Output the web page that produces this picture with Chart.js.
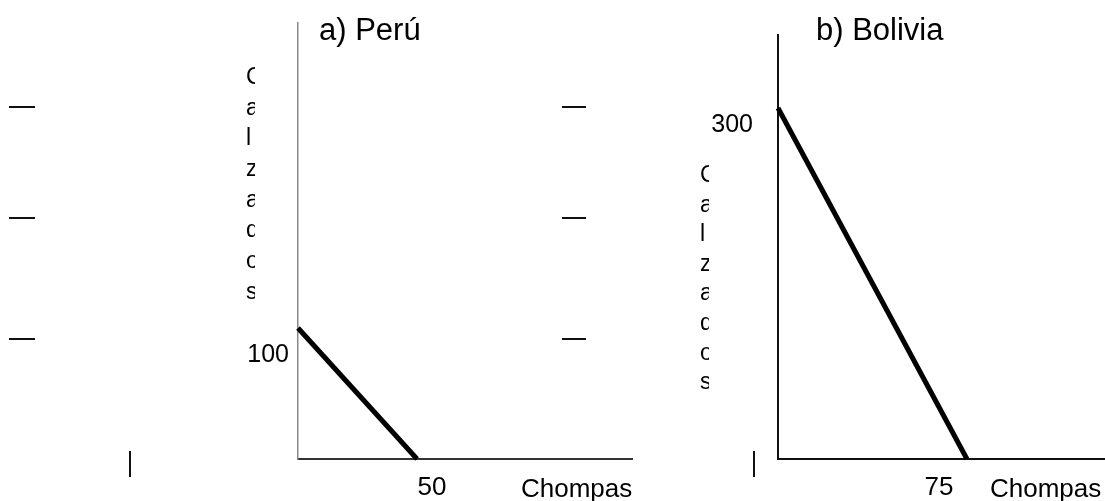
<!DOCTYPE html>
<html>
<head>
<meta charset="utf-8">
<script src="https://cdn.jsdelivr.net/npm/chart.js@4"></script>
<style>
html, body { margin:0; padding:0; background:#fff; width:1105px; height:501px; overflow:hidden; }
#wrap { position:relative; width:1105px; height:501px; font-family:"Liberation Sans", Arial, sans-serif; color:#000; }
canvas { position:absolute; left:0; top:0; }
.t { position:absolute; white-space:nowrap; line-height:1; }
.v { position:absolute; width:9px; overflow:hidden; word-break:break-all; font-size:23px; }
.mark { position:absolute; background:#111; }
</style>
</head>
<body>
<div id="wrap">
  <canvas id="peru" width="1105" height="501"></canvas>
  <canvas id="bolivia" width="1105" height="501"></canvas>
</div>
<script>
// ---- data ----
const panelTitles = ["a) Perú", "b) Bolivia"];
const xAxisName = "Chompas";
const yAxisName = "Calzados";

const peruChompas = [0, 50];
const peruCalzados = [100, 0];
const peruTicksX = [50];
const peruTicksY = [100];

const boliviaChompas = [0, 75];
const boliviaCalzados = [300, 0];
const boliviaTicksX = [75];
const boliviaTicksY = [300];

Chart.defaults.font.family = '"Liberation Sans", Arial, sans-serif';
Chart.defaults.color = '#000';

function makePanel(id, xs, ys, xTicks, yTicks, cfg) {
  const pts = xs.map((x, i) => ({ x: x, y: ys[i] }));
  return new Chart(document.getElementById(id), {
    type: 'scatter',
    data: {
      datasets: [{
        data: pts,
        showLine: true,
        borderColor: '#000',
        borderWidth: 5,
        pointRadius: 0,
        pointHoverRadius: 0,
        clip: false,
        tension: 0
      }]
    },
    options: {
      responsive: false,
      animation: false,
      devicePixelRatio: 1,
      events: [],
      plugins: { legend: { display: false }, tooltip: { enabled: false }, title: { display: false } },
      layout: { padding: cfg.padding },
      scales: {
        x: {
          type: 'linear', position: 'bottom', min: 0, max: cfg.xMax,
          grid: { display: false, drawTicks: false },
          border: { display: true, color: cfg.xBorder, width: 2 },
          afterBuildTicks: s => { s.ticks = xTicks.map(v => ({ value: v })); },
          afterFit: s => { s.height = 42; s.paddingLeft = 0; s.paddingRight = 0; s.paddingTop = 0; s.paddingBottom = 0; },
          ticks: { font: { size: 26 }, color: '#000', padding: 13, labelOffset: cfg.xLabelOffset,
                   maxRotation: 0, minRotation: 0, autoSkip: false, callback: v => String(v) }
        },
        y: {
          type: 'linear', position: 'left', min: 0, max: cfg.yMax,
          grid: { display: false, drawTicks: false },
          border: { display: true, color: cfg.yBorder, width: cfg.yBorderWidth },
          afterBuildTicks: s => { s.ticks = yTicks.map(v => ({ value: v })); },
          afterFit: s => { s.width = cfg.yWidth; s.paddingLeft = 0; s.paddingRight = 0; s.paddingTop = 0; s.paddingBottom = 0; },
          ticks: { font: { size: 25 }, color: '#000', padding: cfg.yPad, labelOffset: cfg.yLabelOffset,
                   autoSkip: false, callback: v => String(v) }
        }
      }
    }
  });
}

makePanel('peru', peruChompas, peruCalzados, peruTicksX, peruTicksY, {
  padding: { left: 238, top: 23, right: 473, bottom: 0 },
  yWidth: 60, xMax: 140.3, yMax: 332.8,
  xBorder: '#333', yBorder: '#8a8a8a', yBorderWidth: 1.5,
  xLabelOffset: 15, yLabelOffset: 27, yPad: 9
});

makePanel('bolivia', boliviaChompas, boliviaCalzados, boliviaTicksX, boliviaTicksY, {
  padding: { left: 698, top: 35, right: 0, bottom: 0 },
  yWidth: 80, xMax: 129.8, yMax: 362.4,
  xBorder: '#111', yBorder: '#111', yBorderWidth: 2,
  xLabelOffset: -28, yLabelOffset: 17, yPad: 25
});

// ---- text & decorations ----
const wrap = document.getElementById('wrap');
function addText(txt, cls, style) {
  const d = document.createElement('div');
  d.className = cls;
  d.textContent = txt;
  Object.assign(d.style, style);
  wrap.appendChild(d);
}
function addMark(l, t, w, h) {
  const d = document.createElement('div');
  d.className = 'mark';
  Object.assign(d.style, { left: l + 'px', top: t + 'px', width: w + 'px', height: h + 'px' });
  wrap.appendChild(d);
}
addText(panelTitles[0], 't', { left: '319px', top: '14px', fontSize: '31px' });
addText(panelTitles[1], 't', { left: '816px', top: '14px', fontSize: '31px' });
addText(xAxisName, 't', { left: '521px', top: '475px', fontSize: '26px' });
addText(xAxisName, 't', { left: '990px', top: '475px', fontSize: '26px' });
addText(yAxisName, 'v', { left: '246px', top: '61px', lineHeight: '30.67px' });
addText(yAxisName, 'v', { left: '700px', top: '160px', lineHeight: '29.6px' });

[106, 217, 338].forEach(y => { addMark(9, y, 26, 2); addMark(562, y, 24, 2); });
addMark(129, 451, 2, 26);
addMark(753, 451, 2, 26);
</script>
</body>
</html>
